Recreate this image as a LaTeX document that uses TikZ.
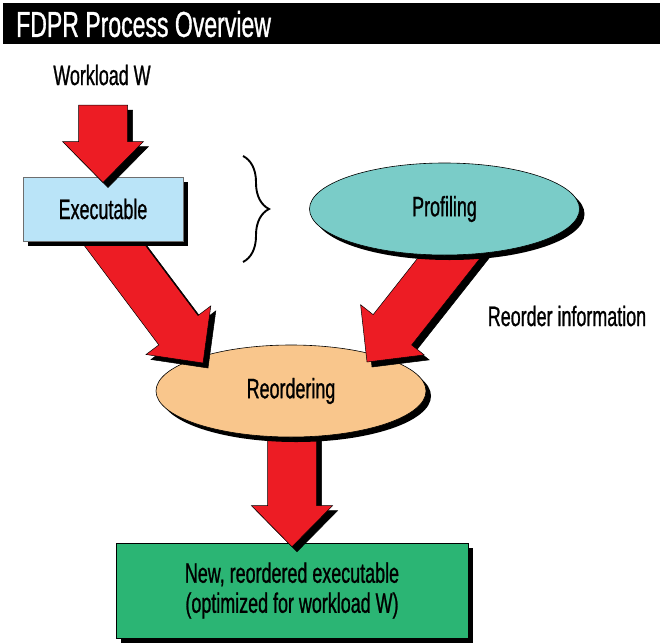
\documentclass[tikz,border=0pt]{standalone}
\usepackage{fontspec}
\setmainfont{Liberation Sans}[FakeStretch=0.64, FakeBold=0.9]
\usetikzlibrary{shapes.geometric,positioning,calc,shadows,decorations.pathreplacing}
\definecolor{C_red}{RGB}{237,28,36}
\definecolor{C_sky}{RGB}{186,228,248}
\definecolor{C_teal}{RGB}{122,204,200}
\definecolor{C_peach}{RGB}{249,198,140}
\definecolor{C_green}{RGB}{43,181,116}
\definecolor{C_edge}{RGB}{110,110,110}

% drawing order: target boxes below, arrow tips above them
\pgfdeclarelayer{bottom}
\pgfdeclarelayer{arrowlow}
\pgfdeclarelayer{arrowmid}
\pgfdeclarelayer{top}
\pgfdeclarelayer{arrowtop}
\pgfsetlayers{bottom,arrowlow,main,arrowmid,top,arrowtop}

% fat block arrow with a hard black shadow
\newcommand{\shaftw}{24.5pt}
\newcommand{\headw}{40.5pt}
\newcommand{\headlen}{41pt}
\newcommand{\fatarrow}[2]{%
  \coordinate (fa-t) at #1;
  \coordinate (fa-p) at #2;
  \coordinate (fa-h) at ($(fa-p)!\headlen!(fa-t)$);
  \foreach \sty in {arrowshadow,arrowbody}
    \filldraw[\sty] ($(fa-t)!\shaftw!90:(fa-p)$) -- ($(fa-h)!\shaftw!90:(fa-p)$)
      -- ($(fa-h)!\headw!90:(fa-p)$) -- (fa-p) -- ($(fa-h)!\headw!-90:(fa-p)$)
      -- ($(fa-h)!\shaftw!-90:(fa-p)$) -- ($(fa-t)!\shaftw!-90:(fa-p)$) -- cycle;
}

\begin{document}
\begin{tikzpicture}[x=1pt, y=-1pt]
  \tikzset{
    lbl/.style={font=\fontsize{28}{30}\selectfont, inner sep=2pt},
    hardshadow/.style={drop shadow={shadow xshift=5pt, shadow yshift=-5pt, opacity=1, fill=black}},
    exebox/.style={lbl, rectangle, draw=C_edge, line width=1pt, fill=C_sky, hardshadow, minimum width=160pt, minimum height=64pt},
    phase/.style={lbl, ellipse, draw=black, line width=0.6pt, hardshadow, minimum width=270pt, minimum height=92pt},
    outbox/.style={lbl, rectangle, draw=black, line width=0.6pt, fill=C_green, hardshadow, minimum width=352pt, minimum height=95pt, align=center},
    arrowbody/.style={fill=C_red, draw=black, line width=0.5pt},
    arrowshadow/.style={fill=black, draw=black, line width=0.5pt, transform canvas={shift={(5pt,-5pt)}}}
  }
  \useasboundingbox (0,0) rectangle (660,642);

  % title bar
  \fill[black] (3,3) rectangle (660,44);
  \node[anchor=west, text=white, font=\fontsize{36}{40}\selectfont, inner sep=0pt] (ttl) at (16,24) {FDPR Process Overview};

  \node[lbl] (wl) at (102,75) {Workload W};
  \node[lbl] (info) at (567,316) {Reorder information};

  \begin{pgfonlayer}{top}
    \node[exebox] (exe) at (103,209) {Executable};
    \node[phase, fill=C_teal] (pro) at (444.5,209) {Profiling};
  \end{pgfonlayer}
  \node[phase, fill=C_peach] (reo) at (291,391) {Reordering};
  \begin{pgfonlayer}{bottom}
    \node[outbox] (new) at (292,590.5) {New, reordered executable\\(optimized for workload W)};
  \end{pgfonlayer}

  \draw[decorate, decoration={brace, amplitude=26pt}, line width=1.9pt] (243,156) -- (243,262);

  \begin{pgfonlayer}{arrowtop}
    \fatarrow{($(wl.center)+(1,30)$)}{($(exe.north)+(0,6)$)}
  \end{pgfonlayer}
  \begin{pgfonlayer}{arrowmid}
    \fatarrow{($(exe.center)+(-14,2)$)}{($(reo.center)+(-88,-28)$)}
    \fatarrow{($(pro.center)+(40,4)$)}{($(reo.center)+(76,-29)$)}
  \end{pgfonlayer}
  \begin{pgfonlayer}{arrowlow}
    \fatarrow{(reo.center -| new.north)}{($(new.north)+(0,4)$)}
  \end{pgfonlayer}
\end{tikzpicture}
\end{document}
